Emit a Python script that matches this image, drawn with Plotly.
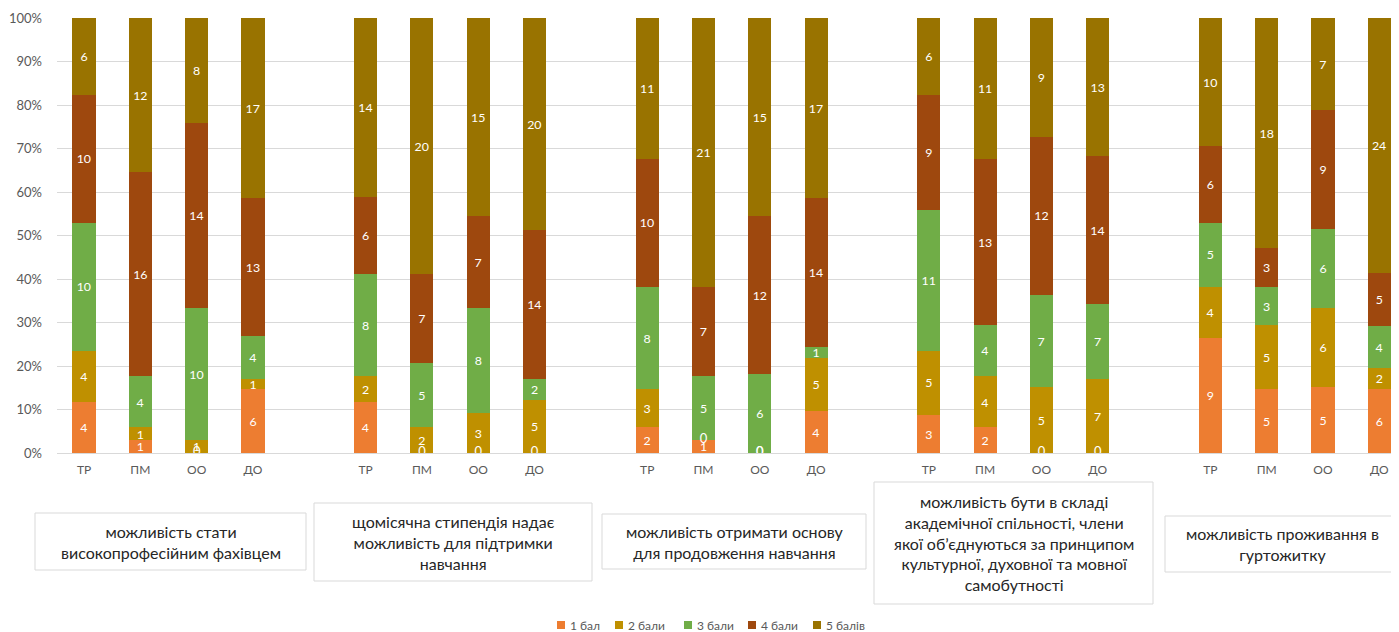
import plotly.graph_objects as go

# ---------------- data ----------------
groups = [
    "можливість стати<br>високопрофесійним фахівцем",
    "щомісячна стипендія надає<br>можливість для підтримки<br>навчання",
    "можливість отримати основу<br>для продовження навчання",
    "можливість бути в складі<br>академічної спільності, члени<br>якої об’єднуються за принципом<br>культурної, духовної та мовної<br>самобутності",
    "можливість проживання в<br>гуртожитку",
]
subcats = ["ТР", "ПМ", "ОО", "ДО"]
series_names = ["1 бал", "2 бали", "3 бали", "4 бали", "5 балів"]

# values per group, per sub-category (ТР, ПМ, ОО, ДО)
bal1 = [4, 1, 0, 6,   4, 0, 0, 0,   2, 1, 0, 4,   3, 2, 0, 0,   9, 5, 5, 6]
bal2 = [4, 1, 1, 1,   2, 2, 3, 5,   3, 0, 0, 5,   5, 4, 5, 7,   4, 5, 6, 2]
bal3 = [10, 4, 10, 4, 8, 5, 8, 2,   8, 5, 6, 1,   11, 4, 7, 7,  5, 3, 6, 4]
bal4 = [10, 16, 14, 13, 6, 7, 7, 14, 10, 7, 12, 14, 9, 13, 12, 14, 6, 3, 9, 5]
bal5 = [6, 12, 8, 17, 14, 20, 15, 20, 11, 21, 15, 17, 6, 11, 9, 13, 10, 18, 7, 24]
series_values = [bal1, bal2, bal3, bal4, bal5]

colors = ["#ED7D31", "#BF9000", "#70AD47", "#9E480E", "#997300"]

# ---------------- layout geometry ----------------
# the page body has an 8px margin, so the figure is 8px smaller and
# page pixel positions are shifted by -8 into figure coordinates
OFF = 8
W, H = 1399 - OFF, 632 - OFF
PL, PR = 57 - OFF, 1399 - OFF     # plot area left/right (figure px)
PT, PB = 18 - OFF, 453 - OFF      # plot area top/bottom (figure px)
FONT = "Lato"

# x positions: 4 bars per group with one empty slot between groups
xpos = [g * 5 + i for g in range(len(groups)) for i in range(len(subcats))]
xticktext = [s for _ in groups for s in subcats]

fig = go.Figure()
for name, vals, col in zip(series_names, series_values, colors):
    fig.add_trace(go.Bar(
        x=xpos, y=vals, name=name, marker=dict(color=col, line=dict(width=0)),
        width=0.41,
        text=[str(v) if v != 0 else "" for v in vals],
        textposition="inside", insidetextanchor="middle", textangle=0,
        textfont=dict(color="white", size=13, family=FONT),
        hoverinfo="skip", showlegend=False,
    ))

# zero-value labels (Excel shows "0" at the segment position)
totals = [sum(s[j] for s in series_values) for j in range(len(xpos))]
zx, zy = [], []
for k, vals in enumerate(series_values):
    for j, v in enumerate(vals):
        if v == 0:
            below = sum(series_values[m][j] for m in range(k))
            zx.append(xpos[j])
            zy.append(below / totals[j] * 100)
fig.add_trace(go.Scatter(
    x=zx, y=zy, mode="text", text=["0"] * len(zx),
    textfont=dict(color="white", size=13, family=FONT),
    showlegend=False, hoverinfo="skip", cliponaxis=True,
))


def px_x(p):
    return (p - OFF - PL) / (PR - PL)


def px_y(p):
    return (PB - (p - OFF)) / (PB - PT)


# group label boxes (page pixel rectangles)
boxes = [
    (35, 513, 306, 570),
    (314, 503, 592, 581),
    (602, 514, 866, 569),
    (874, 482, 1153, 604),
    (1165, 516, 1399, 572),
]
shapes = []
annotations = []
for (x0, y0, x1, y1), label in zip(boxes, groups):
    shapes.append(dict(type="rect", xref="paper", yref="paper",
                       x0=px_x(x0), x1=px_x(x1), y0=px_y(y1), y1=px_y(y0),
                       line=dict(color="#D9D9D9", width=1), fillcolor="white"))
    annotations.append(dict(xref="paper", yref="paper",
                            x=px_x((x0 + x1) / 2), y=px_y((y0 + y1) / 2),
                            text=label, showarrow=False, align="center",
                            xanchor="center", yanchor="middle",
                            font=dict(family=FONT, size=16, color="#262626")))

# compact legend (Excel style: small square + label) at the bottom
legend_x = [557, 615, 684, 748, 813]   # page px of each square's left edge
LEG_Y = 625
SQ = 8
for lx, name, col in zip(legend_x, series_names, colors):
    shapes.append(dict(type="rect", xref="paper", yref="paper",
                       x0=px_x(lx), x1=px_x(lx + SQ),
                       y0=px_y(LEG_Y + SQ / 2), y1=px_y(LEG_Y - SQ / 2),
                       line=dict(width=0), fillcolor=col))
    annotations.append(dict(xref="paper", yref="paper",
                            x=px_x(lx + SQ + 3), y=px_y(LEG_Y),
                            text=name, showarrow=False,
                            xanchor="left", yanchor="middle",
                            font=dict(family=FONT, size=12, color="#595959")))

fig.update_layout(
    width=W, height=H,
    margin=dict(l=PL, r=W - PR, t=PT, b=H - PB, pad=0),
    barmode="stack", barnorm="percent",
    plot_bgcolor="white", paper_bgcolor="white",
    font=dict(family=FONT, color="#595959", size=12),
    xaxis=dict(tickmode="array", tickvals=xpos, ticktext=xticktext,
               range=[-0.48, 23.35], showgrid=False, zeroline=False,
               showline=False, ticks="", ticklabelstandoff=8,
               tickfont=dict(size=12, color="#595959", family=FONT)),
    yaxis=dict(range=[0, 100], dtick=10, ticksuffix="%",
               showgrid=True, gridcolor="#D9D9D9", gridwidth=1,
               zeroline=True, zerolinecolor="#D9D9D9", zerolinewidth=1,
               showline=False, ticks="", ticklabelstandoff=14,
               tickfont=dict(size=13, color="#595959", family=FONT)),
    uniformtext=dict(minsize=12, mode="show"),
    shapes=shapes, annotations=annotations,
    showlegend=False,
)

fig.write_html("out.html")
